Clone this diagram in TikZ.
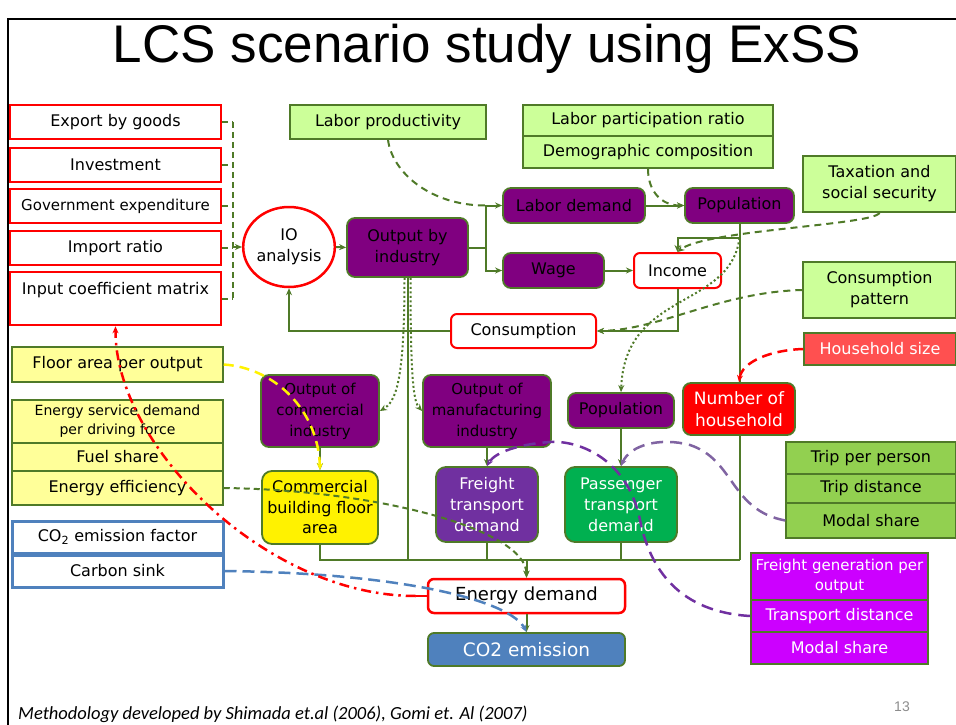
\documentclass[tikz,border=0pt]{standalone}
\usepackage{fontspec}
\setmainfont{DejaVu Sans}
\newfontfamily\titlefont{Liberation Sans}
\newfontfamily\footfont{Carlito}
\usetikzlibrary{arrows.meta,shapes.geometric}
\pgfdeclarelayer{bg}
\pgfsetlayers{bg,main}
\definecolor{lg}{HTML}{4F7A28}
\definecolor{pur}{HTML}{800080}
\definecolor{lgreen}{HTML}{CCFF99}
\definecolor{lyel}{HTML}{FFFF99}
\definecolor{fre}{HTML}{7030A0}
\definecolor{pas}{HTML}{00B050}
\definecolor{hhs}{HTML}{FF5050}
\definecolor{trip}{HTML}{92D050}
\definecolor{cob}{HTML}{4F81BD}
\definecolor{mag}{HTML}{CC00FF}
\definecolor{arcp}{HTML}{8064A2}
\definecolor{arcd}{HTML}{7030A0}
\definecolor{pgray}{HTML}{8C8C8C}
\newcommand\fsz[2]{\fontsize{#1}{#2}\selectfont}
\begin{document}
\begin{tikzpicture}[x=1pt,y=-1pt,
  every node/.style={inner sep=1pt, align=center, font=\fsz{16}{21}},
  wh/.style 2 args={minimum width=#1, minimum height=#2},
  redsq/.style={draw=red, line width=2.5pt, fill=white},
  redrd/.style={draw=red, line width=2pt, fill=white, rounded corners=6pt},
  pbox/.style={draw=lg, line width=1.8pt, fill=pur, rounded corners=8pt},
  gbox/.style={draw=lg, line width=1.5pt, fill=lgreen},
  ybox/.style={draw=lg, line width=1.5pt, fill=lyel},
  bbox/.style={draw=cob, line width=3pt, fill=white},
  tbox/.style={draw=lg, line width=1.5pt, fill=trip},
  mbox/.style={draw=lg, line width=1.5pt, fill=mag, text=white},
  tip/.style={-{Stealth[length=7pt,width=6pt]}},
  gl/.style={draw=lg, line width=2pt},
  ga/.style={gl, tip},
  gd/.style={draw=lg, line width=2pt, dash pattern=on 7pt off 5pt},
  dt/.style={draw=lg, line width=2pt, dash pattern=on 2pt off 2.5pt},
]
\useasboundingbox (0,0) rectangle (956,725);
\draw[line width=2pt] (8,725) -- (8,19) -- (956,19);

\node[font=\titlefont\fsz{53}{60}, anchor=base, inner sep=0pt] (title) at (487,63) {LCS scenario study using ExSS};
\node[font=\footfont\itshape\fsz{18.5}{22}, anchor=base west, inner sep=0pt] (foot) at (18,719) {Methodology developed by Shimada et.al (2006), Gomi et. Al (2007)};
\node[font=\titlefont\fsz{14}{16}, text=pgray, anchor=base, inner sep=0pt] (pg) at (902,711) {13};

% left red boxes
\node[redsq, wh={211}{34}] (exp) at (115.5,122) {Export by goods};
\node[redsq, wh={211}{34}] (inv) at (115.5,165) {Investment};
\node[redsq, wh={211}{34}, font=\fsz{15}{19}] (gov) at (115.5,206) {Government expenditure};
\node[redsq, wh={211}{34}] (imp) at (115.5,248) {Import ratio};
\node[redsq, wh={211}{53}] (inp) at (115.5,298.5) {Input coefficient matrix\\\mbox{}};

% IO and economy
\node[ellipse, draw=red, line width=2.5pt, fill=white, wh={86}{80}, inner sep=0pt] (io) at (289,247) {IO\\analysis};
\node[pbox, wh={121}{59}] (outp) at (407.5,247.5) {Output by\\industry};
\node[pbox, wh={142}{35}] (labd) at (574,205.5) {Labor demand};
\node[pbox, wh={101}{35}] (wage) at (553.5,270.5) {Wage};
\node[pbox, wh={109}{35}] (pop1) at (739.5,205.5) {Population};
\node[redrd, wh={87}{35}] (inc) at (677.5,270.5) {Income};
\node[redrd, wh={145}{34}] (cons) at (523.5,331) {Consumption};

\node[gbox, wh={196}{34}] (lp) at (388,122) {Labor productivity};
\node[gbox, wh={250}{31}] (lpr) at (648,120.5) {Labor participation ratio};
\node[gbox, wh={250}{32}] (dem) at (648,152) {Demographic composition};
\node[gbox, wh={153}{56}] (tax) at (879.5,184) {Taxation and\\social security};
\node[gbox, wh={153}{56}] (cp) at (879.5,290) {Consumption\\pattern};
\node[draw=lg, line width=1.5pt, fill=hhs, text=white, wh={152}{32}] (hs) at (880,349) {Household size};

% middle row
\node[pbox, wh={118}{72}, font=\fsz{15}{21}] (occ) at (320,411) {Output of\\commercial\\industry};
\node[pbox, wh={128}{72}, font=\fsz{15}{21}] (omi) at (487,411) {Output of\\manufacturing\\industry};
\node[pbox, wh={106}{35}] (pop2) at (621,410.5) {Population};
\node[draw=lg, line width=1.8pt, fill=red, text=white, rounded corners=8pt, wh={112}{52}, font=\fsz{17}{22}] (nh) at (739,409) {Number of\\household};

\node[draw=lg, line width=1.8pt, fill=yellow, rounded corners=10pt, wh={116}{73}, font=\fsz{16}{20.5}] (cbf) at (320,507.5) {Commercial\\building floor\\area};
\node[draw=lg, line width=1.8pt, fill=fre, text=white, rounded corners=10pt, wh={102}{75}, font=\fsz{16}{21}] (frd) at (487,504.5) {Freight\\transport\\demand};
\node[draw=lg, line width=1.8pt, fill=pas, text=white, rounded corners=10pt, wh={112}{75}, font=\fsz{16}{21}] (ptd) at (621,504.5) {Passenger\\transport\\demand};

\node[tbox, wh={170}{32}] (trip1) at (871,458) {Trip per person};
\node[tbox, wh={170}{29}] (trip2) at (871,488.5) {Trip distance};
\node[tbox, wh={170}{35}] (trip3) at (871,520.5) {Modal share};

% left yellow / blue
\node[ybox, wh={211}{35}] (fap) at (117.5,364.5) {Floor area per output};
\node[ybox, wh={211}{43}, font=\fsz{14}{19}] (esd) at (117.5,421.5) {Energy service demand\\per driving force};
\node[ybox, wh={211}{28}] (fs) at (117.5,457) {Fuel share};
\node[ybox, wh={211}{34}] (ee) at (117.5,488) {Energy efficiency};
\node[bbox, wh={211}{32}] (cef) at (117.5,537) {CO\textsubscript{2} emission factor};
\node[bbox, wh={211}{32}] (cs) at (117.5,571) {Carbon sink};

% bottom
\node[redrd, line width=2.5pt, wh={197}{34}, font=\fsz{18}{22}] (ed) at (526.5,596) {Energy demand};
\node[draw=lg, line width=1.8pt, fill=cob, text=white, rounded corners=6pt, wh={197}{33}, font=\fsz{18.5}{22}] (co2) at (526.5,649.5) {CO2 emission};

\node[mbox, wh={177}{47}, font=\fsz{15}{20}] (fg) at (839.5,576.5) {Freight generation per\\output};
\node[mbox, wh={177}{32}] (td) at (839.5,616) {Transport distance};
\node[mbox, wh={177}{32}] (ms2) at (839.5,648) {Modal share};

% ---------- connectors ----------
\coordinate (bx) at (233,0);
\foreach \n in {exp,inv,gov,imp,inp} { \draw[gd, dash pattern=on 6pt off 4pt] (\n.east) -- (\n.east -| bx); }
\draw[gd, dash pattern=on 6pt off 4pt] (exp.east -| bx) -- (inp.east -| bx);
\draw[gd, dash pattern=on 6pt off 4pt, tip] (io.west -| bx) -- (io.west);

\draw[ga] (io.east) -- (outp.west);
\coordinate (br) at (485.5,247.5);
\draw[gl] (outp.east) -- (br);
\draw[ga] (br) |- (labd.west);
\draw[ga] (br) |- (wage.west);
\draw[ga] (labd.east) -- (pop1.west);
\draw[ga] (wage.east) -- (inc.west);
\coordinate (lpend) at (485.5,205.5);
\draw[gd] (lp.south) .. controls (392,172) and (430,205.5) .. (lpend);
\draw[gd, tip] (dem.south) .. controls (648,192) and (662,205.5) .. (pop1.west);

\coordinate (pj) at (739.5,238);
\coordinate (busR) at (739.5,560);
\coordinate (busL) at (320,560);
\coordinate (busE) at (526.5,560);
\begin{pgfonlayer}{bg}
\draw[gl] (pop1.south) -- (busR);
\end{pgfonlayer}
\draw[ga] (pj) -| (inc.north);
\draw[gd, tip] (tax.south) .. controls (875,225) and (705,230) .. (inc.north);
\draw[dt, tip] (pj) .. controls (730,310) and (625,290) .. (pop2.north);
\draw[ga] (inc.south) |- (cons.east);
\draw[gd, tip] (cp.west) .. controls (720,292) and (660,330) .. (cons.east);
\draw[ga] (cons.west) -| (io.south);

\draw[gl] (outp.south) -- (outp.south |- busR);
\draw[dt, tip] ([xshift=-3pt]outp.south) .. controls (404.5,385) and (395,402) .. (occ.east);
\draw[dt, tip] ([xshift=3pt]outp.south) .. controls (410.5,385) and (414,402) .. (omi.west);

\draw[ga] (occ.south) -- (cbf.north);
\draw[ga] (omi.south) -- (frd.north);
\draw[ga] (pop2.south) -- (ptd.north);
\draw[red, line width=2.5pt, dash pattern=on 10pt off 6pt, tip] (hs.west) .. controls (770,350) and (742,362) .. (nh.north);

\draw[gl] (cbf.south) -- (busL) -- (busR);
\draw[gl] (frd.south) -- (frd.south |- busL);
\draw[gl] (ptd.south) -- (ptd.south |- busL);
\draw[ga] (busE) -- (ed.north);
\draw[ga] (ed.south) -- (co2.north);

% dashed influences
\draw[yellow, line width=2.5pt, dash pattern=on 10pt off 6pt, tip] (fap.east) .. controls (275,368) and (318,410) .. (cbf.north);
\draw[gd, dash pattern=on 6pt off 4pt, tip] (ee.east) .. controls (380,490) and (526,530) .. (ed.north);
\draw[cob, line width=2.5pt, dash pattern=on 12pt off 6pt, tip] (cs.east) .. controls (400,573) and (510,600) .. (co2.north);
\draw[red, line width=2.5pt] (ed.west) -- ++(-11pt,0pt) coordinate (rd);
\draw[red, line width=2.5pt, dash pattern=on 10pt off 5pt on 2.5pt off 5pt, tip] (rd) .. controls (265,596) and (115,445) .. (inp.south);

\draw[arcp, line width=2.5pt, dash pattern=on 12pt off 7pt, tip] (trip3.west) .. controls (730,510) and (735,460) .. (690,445) .. controls (660,437) and (630,445) .. (ptd.north);
\draw[arcd, line width=2.5pt, dash pattern=on 12pt off 7pt, tip] (td.west) .. controls (680,612) and (650,570) .. (640,520) .. controls (628,460) and (580,440) .. (550,442) .. controls (520,444) and (495,452) .. (frd.north);
\end{tikzpicture}
\end{document}
